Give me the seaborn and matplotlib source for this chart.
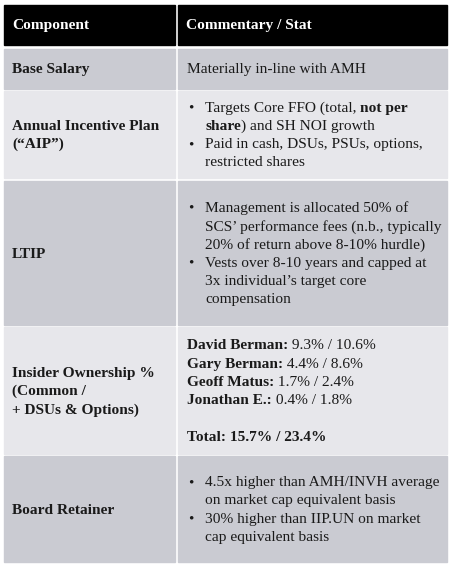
import matplotlib
matplotlib.use("Agg")
import matplotlib.pyplot as plt
import seaborn as sns

sns.set_style("white")
plt.rcParams['font.family'] = ['Liberation Serif', 'DejaVu Serif']

headers = ["Component", "Commentary / Stat"]
components = [["Base Salary"],
              ["Annual Incentive Plan", "(\u201cAIP\u201d)"],
              ["LTIP"],
              ["Insider Ownership %", "(Common /", "+ DSUs & Options)"],
              ["Board Retainer"]]
# each line: (bullet?, [(text, bold), ...])
commentary = [
    [(False, [("Materially in-line with AMH", False)])],
    [(True, [("Targets Core FFO (total, ", False), ("not per", True)]),
     (None, [("share", True), (") and SH NOI growth", False)]),
     (True, [("Paid in cash, DSUs, PSUs, options,", False)]),
     (None, [("restricted shares", False)])],
    [(True, [("Management is allocated 50% of", False)]),
     (None, [("SCS\u2019 performance fees (n.b., typically", False)]),
     (None, [("20% of return above 8-10% hurdle)", False)]),
     (True, [("Vests over 8-10 years and capped at", False)]),
     (None, [("3x individual\u2019s target core", False)]),
     (None, [("compensation", False)])],
    [(False, [("David Berman:", True), (" 9.3% / 10.6%", False)]),
     (False, [("Gary Berman:", True), (" 4.4% / 8.6%", False)]),
     (False, [("Geoff Matus:", True), (" 1.7% / 2.4%", False)]),
     (False, [("Jonathan E.:", True), (" 0.4% / 1.8%", False)]),
     (False, [("", False)]),
     (False, [("Total: 15.7% / 23.4%", True)])],
    [(True, [("4.5x higher than AMH/INVH average", False)]),
     (None, [("on market cap equivalent basis", False)]),
     (True, [("30% higher than IIP.UN on market", False)]),
     (None, [("cap equivalent basis", False)])],
]
row_bounds = [(49, 89), (91, 178), (181, 325), (327, 454), (456, 562)]
row_colors = ["#cacbd2", "#e7e7eb", "#cacbd2", "#e7e7eb", "#cacbd2"]

W, H = 451, 565
fig = plt.figure(figsize=(W / 100, H / 100), dpi=100)
ax = fig.add_axes([0, 0, 1, 1])
ax.set_xlim(0, W)
ax.set_ylim(H, 0)
ax.axis("off")
fs = 11.1
lh = 18.3

# header
for x0, x1, t in [(4, 175, headers[0]), (178, 447, headers[1])]:
    ax.add_patch(plt.Rectangle((x0, 5), x1 - x0, 40, color="black"))
    ax.text(x0 + 8, 26, t, color="white", fontsize=fs, fontweight="bold", va="center")

fig.canvas.draw()
renderer = fig.canvas.get_renderer()
inv = ax.transData.inverted()


def rich(x, y, segs):
    for t, b in segs:
        if not t:
            continue
        txt = ax.text(x, y, t, fontsize=fs, fontweight="bold" if b else "normal",
                      va="center", color="#1a1a1a")
        bb = txt.get_window_extent(renderer)
        x = inv.transform((bb.x1, bb.y0))[0]


for (y0, y1), col, comp, comm in zip(row_bounds, row_colors, components, commentary):
    ax.add_patch(plt.Rectangle((4, y0), 171, y1 - y0, color=col))
    ax.add_patch(plt.Rectangle((178, y0), 269, y1 - y0, color=col))
    yc = (y0 + y1) / 2 + 1
    n = len(comp)
    for i, t in enumerate(comp):
        ax.text(12, yc + (i - (n - 1) / 2) * lh, t, fontsize=fs, fontweight="bold",
                va="center", color="#1a1a1a")
    m = len(comm)
    for i, (bul, segs) in enumerate(comm):
        y = yc + (i - (m - 1) / 2) * lh
        if bul is None or bul:
            if bul:
                ax.text(188, y, "\u2022", fontsize=fs, va="center", color="#1a1a1a")
            rich(205, y, segs)
        else:
            rich(187, y, segs)

fig.savefig("out.png", dpi=100)
